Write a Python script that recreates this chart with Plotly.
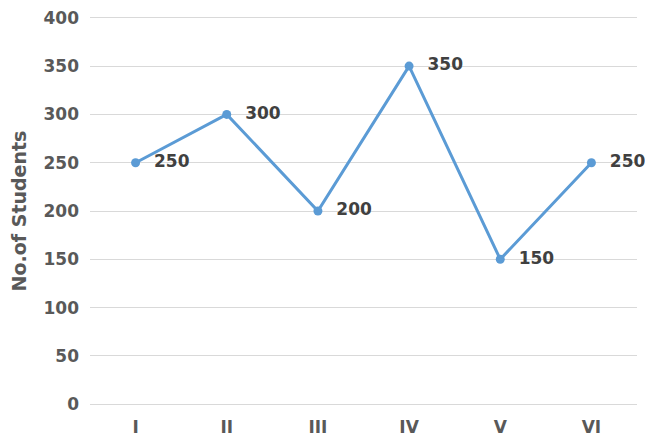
import plotly.graph_objects as go

categories = ["I", "II", "III", "IV", "V", "VI"]
students = [250, 300, 200, 350, 150, 250]
y_ticks = [0, 50, 100, 150, 200, 250, 300, 350, 400]

FONT = "DejaVu Sans"
fig = go.Figure()
fig.add_trace(go.Scatter(
    x=categories, y=students,
    mode="lines+markers+text",
    line=dict(color="#5B9BD5", width=3),
    marker=dict(color="#5B9BD5", size=9),
    text=[f"  {v}" for v in students],
    textposition="middle right",
    textfont=dict(family=FONT, size=17, color="#404040", weight="bold"),
    cliponaxis=False,
    showlegend=False,
))

fig.update_layout(
    width=645, height=433,
    margin=dict(l=82, r=16, t=5, b=32, autoexpand=False),
    paper_bgcolor="white", plot_bgcolor="white",
    font=dict(family=FONT, size=16, color="#595959"),
)
fig.update_xaxes(
    type="category", range=[-0.5, 5.5], showgrid=False, zeroline=False, showline=False,
    tickfont=dict(family=FONT, size=17, color="#595959", weight="bold"),
    ticks="", ticklabelstandoff=6,
)
fig.update_yaxes(
    range=[-5, 405], tickvals=y_ticks, showgrid=True, gridcolor="#D9D9D9", gridwidth=1,
    zeroline=False, showline=False, ticks="",
    tickfont=dict(family=FONT, size=17, color="#595959", weight="bold"),
    ticklabelstandoff=10, ticklabeloverflow="allow",
    title=dict(text="No.of Students", font=dict(family=FONT, size=19, color="#595959", weight="bold"), standoff=14),
)

fig.write_html("out.html")
